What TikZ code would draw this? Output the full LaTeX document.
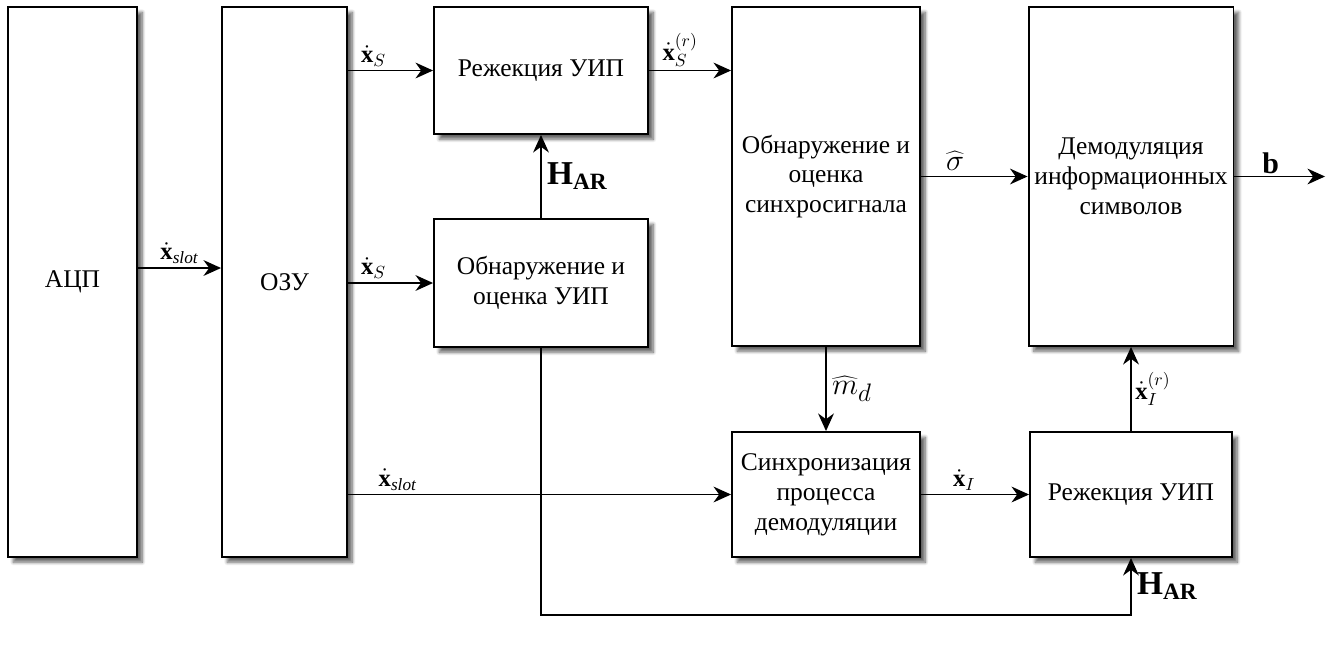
\documentclass[tikz,border=0pt]{standalone}
\usepackage{fontspec}
\setmainfont{Liberation Serif}
\usetikzlibrary{arrows.meta,shadows.blur}

\begin{document}
\begin{tikzpicture}[x=0.02cm,y=-0.02cm,
  blk/.style={draw, line width=1.1pt, fill=white, align=center,
    font=\fontsize{14.5}{17}\selectfont,
    blur shadow={shadow xshift=3pt, shadow yshift=-3pt, shadow blur steps=8, shadow opacity=60}},
  arr/.style={-{Stealth[length=10pt,width=9pt]}, line width=0.9pt},
  lbl/.style={font=\fontsize{14}{16}\selectfont, inner sep=2pt},
  big/.style={font=\fontsize{19}{21}\selectfont, inner sep=3pt}]

\useasboundingbox (0,0) rectangle (1335,646);

\node [blk, minimum width=2.58cm, minimum height=11cm] (adc) at (72.5,282) {АЦП};
\node [blk, minimum width=2.5cm, minimum height=11cm] (ozu) at (284.5,282) {ОЗУ};
\node [blk, minimum width=4.28cm, minimum height=2.54cm] (rejS) at (541,70.5) {Режекция УИП};
\node [blk, minimum width=4.28cm, minimum height=2.56cm] (detU) at (541,283) {Обнаружение и\\оценка УИП};
\node [blk, minimum width=3.76cm, minimum height=6.78cm] (detS) at (826,176.5) {Обнаружение и\\оценка\\синхросигнала};
\node [blk, minimum width=4.04cm, minimum height=6.78cm] (demod) at (1131,176.5) {Демодуляция\\информационных\\символов};
\node [blk, minimum width=3.76cm, minimum height=2.5cm] (sync) at (826,494.5) {Синхронизация\\процесса\\демодуляции};
\node [blk, minimum width=4.04cm, minimum height=2.5cm] (rejI) at (1131,494.5) {Режекция УИП};

\coordinate (out) at (1325,176.5);
\coordinate (low) at (541,615);

\draw [arr] ([yshift=0.28cm]adc.east) -- ([yshift=0.28cm]ozu.west)
  node [lbl, midway, above] {$\dot{\mathbf{x}}_{\mathit{slot}}$};
\draw [arr] (ozu.east |- rejS.west) -- (rejS.west)
  node [lbl, pos=0.3, above] {$\dot{\mathbf{x}}_{S}$};
\draw [arr] (ozu.east |- detU.west) -- (detU.west)
  node [lbl, pos=0.3, above] {$\dot{\mathbf{x}}_{S}$};
\draw [arr] (ozu.east |- sync.west) -- (sync.west)
  node [lbl, pos=0.13, above] {$\dot{\mathbf{x}}_{\mathit{slot}}$};
\draw [arr] (detU.north) -- (rejS.south)
  node [big, midway, right] {$\mathbf{H}_{\mathbf{AR}}$};
\draw [arr] (rejS.east) -- (rejS.east -| detS.west)
  node [lbl, pos=0.38, above] {$\dot{\mathbf{x}}_{S}^{(r)}$};
\draw [arr] (detS.east) -- (demod.west)
  node [big, pos=0.32, above] {$\widehat{\sigma}$};
\draw [arr] (demod.east) -- (out)
  node [lbl, font=\fontsize{17}{19}\selectfont, pos=0.4, above, inner sep=1pt] {$\mathbf{b}$};
\draw [arr] (detS.south) -- (sync.north)
  node [big, midway, right] {$\widehat{m}_d$};
\draw [arr] (sync.east) -- (rejI.west)
  node [lbl, pos=0.4, above] {$\dot{\mathbf{x}}_{I}$};
\draw [arr] (rejI.north) -- (demod.south)
  node [lbl, midway, right] {$\dot{\mathbf{x}}_{I}^{(r)}$};
\draw [arr] (detU.south) -- (low) -| (rejI.south)
  node [big, pos=0.75, right] {$\mathbf{H}_{\mathbf{AR}}$};

\end{tikzpicture}
\end{document}
